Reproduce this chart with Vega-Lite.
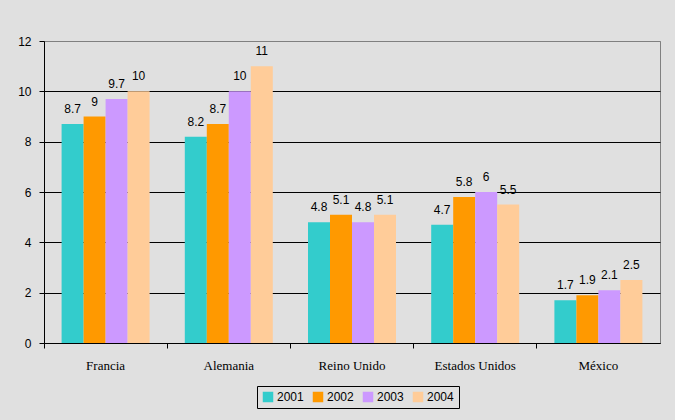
{
  "$schema": "https://vega.github.io/schema/vega-lite/v6.json",
  "width": 616,
  "height": 302,
  "autosize": "none",
  "padding": {"left": 44, "top": 41, "right": 15, "bottom": 77},
  "background": "#e0e0e0",
  "data": {
    "values": [
      {"pais": "Francia", "anio": "2001", "valor": 8.7},
      {"pais": "Francia", "anio": "2002", "valor": 9},
      {"pais": "Francia", "anio": "2003", "valor": 9.7},
      {"pais": "Francia", "anio": "2004", "valor": 10},
      {"pais": "Alemania", "anio": "2001", "valor": 8.2},
      {"pais": "Alemania", "anio": "2002", "valor": 8.7},
      {"pais": "Alemania", "anio": "2003", "valor": 10},
      {"pais": "Alemania", "anio": "2004", "valor": 11},
      {"pais": "Reino Unido", "anio": "2001", "valor": 4.8},
      {"pais": "Reino Unido", "anio": "2002", "valor": 5.1},
      {"pais": "Reino Unido", "anio": "2003", "valor": 4.8},
      {"pais": "Reino Unido", "anio": "2004", "valor": 5.1},
      {"pais": "Estados Unidos", "anio": "2001", "valor": 4.7},
      {"pais": "Estados Unidos", "anio": "2002", "valor": 5.8},
      {"pais": "Estados Unidos", "anio": "2003", "valor": 6},
      {"pais": "Estados Unidos", "anio": "2004", "valor": 5.5},
      {"pais": "México", "anio": "2001", "valor": 1.7},
      {"pais": "México", "anio": "2002", "valor": 1.9},
      {"pais": "México", "anio": "2003", "valor": 2.1},
      {"pais": "México", "anio": "2004", "valor": 2.5}
    ]
  },
  "encoding": {
    "x": {
      "field": "pais",
      "type": "nominal",
      "sort": ["Francia", "Alemania", "Reino Unido", "Estados Unidos", "México"],
      "scale": {"paddingInner": 0, "paddingOuter": 0},
      "axis": {
        "title": null,
        "labelAngle": 0,
        "bandPosition": 0,
        "tickColor": "black",
        "tickSize": 5,
        "domainColor": "black",
        "labelFont": "Liberation Serif",
        "labelFontSize": 13,
        "labelFontWeight": "normal",
        "labelColor": "black",
        "labelPadding": 11,
        "grid": false
      }
    },
    "xOffset": {
      "field": "anio",
      "type": "nominal",
      "scale": {"paddingOuter": 0.8, "paddingInner": 0}
    },
    "y": {
      "field": "valor",
      "type": "quantitative",
      "scale": {"domain": [0, 12], "nice": false},
      "axis": {
        "title": null,
        "values": [0, 2, 4, 6, 8, 10, 12],
        "grid": true,
        "gridColor": {"condition": {"test": "datum.value == 12", "value": "#808080"}, "value": "black"},
        "gridOpacity": 1,
        "tickColor": "black",
        "tickSize": 5,
        "domainColor": "black",
        "labelFont": "Liberation Sans",
        "labelFontSize": 12,
        "labelColor": "black",
        "labelPadding": 8
      }
    }
  },
  "layer": [
    {
      "mark": {"type": "bar"},
      "encoding": {
        "color": {
          "field": "anio",
          "type": "nominal",
          "scale": {
            "domain": ["2001", "2002", "2003", "2004"],
            "range": ["#33CCCC", "#FF9900", "#CC99FF", "#FFCC99"]
          },
          "legend": {
            "title": null,
            "orient": "none",
            "direction": "horizontal",
            "legendX": 213,
            "legendY": 345,
            "symbolType": "square",
            "symbolSize": 110,
            "symbolStrokeWidth": 0,
            "symbolOpacity": 1,
            "labelFont": "Liberation Sans",
            "labelFontSize": 12,
            "labelColor": "black",
            "labelOffset": 3,
            "columnPadding": 8,
            "padding": 5,
            "strokeColor": "black",
            "fillColor": "#e0e0e0"
          }
        }
      }
    },
    {
      "mark": {
        "type": "text",
        "baseline": "bottom",
        "dy": -8,
        "font": "Liberation Sans",
        "fontSize": 12,
        "fontWeight": "normal",
        "color": "black"
      },
      "encoding": {"text": {"field": "valor", "type": "quantitative"}}
    }
  ],
  "config": {"view": {"stroke": "#808080"}}
}
